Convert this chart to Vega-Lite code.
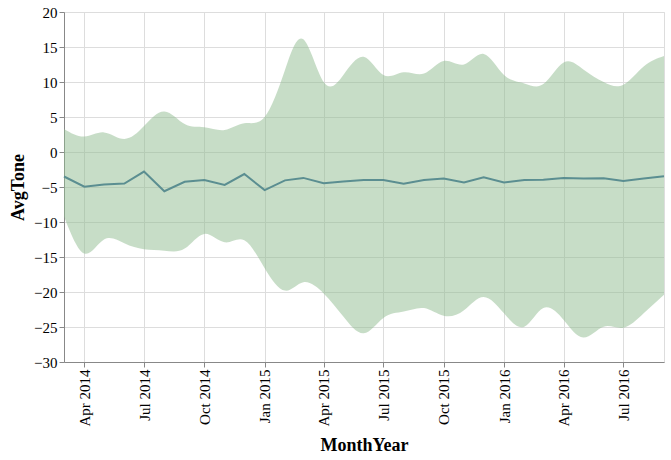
{
  "$schema": "https://vega.github.io/schema/vega-lite/v6.json",
  "width": 600,
  "height": 350,
  "autosize": {"type": "none"},
  "padding": {"left": 64, "top": 12, "right": 7, "bottom": 98},
  "config": {
    "font": "Liberation Serif",
    "style": {
      "guide-label": {"font": "Liberation Serif", "fontSize": 15, "fill": "#000"},
      "guide-title": {"font": "Liberation Serif", "fontSize": 18, "fontWeight": "bold", "fill": "#000"}
    },
    "axis": {
      "labelFont": "Liberation Serif",
      "titleFont": "Liberation Serif",
      "labelFontSize": 15,
      "titleFontSize": 18,
      "titleFontWeight": "bold",
      "labelColor": "#000",
      "titleColor": "#000"
    }
  },
  "data": {
    "values": [
      {"MonthYear": "2014-03-01T00:00:00", "AvgTone": -3.5, "Lo": -9.2, "Hi": 3.3},
      {"MonthYear": "2014-04-01T00:00:00", "AvgTone": -4.95, "Lo": -14.5, "Hi": 2.2},
      {"MonthYear": "2014-05-01T00:00:00", "AvgTone": -4.65, "Lo": -12.5, "Hi": 2.8},
      {"MonthYear": "2014-06-01T00:00:00", "AvgTone": -4.5, "Lo": -13.05, "Hi": 1.86},
      {"MonthYear": "2014-07-01T00:00:00", "AvgTone": -2.8, "Lo": -13.9, "Hi": 3.7},
      {"MonthYear": "2014-08-01T00:00:00", "AvgTone": -5.6, "Lo": -14.1, "Hi": 5.8},
      {"MonthYear": "2014-09-01T00:00:00", "AvgTone": -4.25, "Lo": -13.8, "Hi": 4.0},
      {"MonthYear": "2014-10-01T00:00:00", "AvgTone": -4.0, "Lo": -11.7, "Hi": 3.55},
      {"MonthYear": "2014-11-01T00:00:00", "AvgTone": -4.7, "Lo": -12.9, "Hi": 3.15},
      {"MonthYear": "2014-12-01T00:00:00", "AvgTone": -3.15, "Lo": -12.6, "Hi": 4.1},
      {"MonthYear": "2015-01-01T00:00:00", "AvgTone": -5.45, "Lo": -16.6, "Hi": 5.0},
      {"MonthYear": "2015-02-01T00:00:00", "AvgTone": -4.05, "Lo": -19.8, "Hi": 11.7},
      {"MonthYear": "2015-03-01T00:00:00", "AvgTone": -3.7, "Lo": -18.6, "Hi": 16.1},
      {"MonthYear": "2015-04-01T00:00:00", "AvgTone": -4.45, "Lo": -20.2, "Hi": 10.0},
      {"MonthYear": "2015-05-01T00:00:00", "AvgTone": -4.2, "Lo": -23.5, "Hi": 11.0},
      {"MonthYear": "2015-06-01T00:00:00", "AvgTone": -4.0, "Lo": -25.9, "Hi": 13.6},
      {"MonthYear": "2015-07-01T00:00:00", "AvgTone": -4.0, "Lo": -23.7, "Hi": 11.0},
      {"MonthYear": "2015-08-01T00:00:00", "AvgTone": -4.55, "Lo": -22.8, "Hi": 11.4},
      {"MonthYear": "2015-09-01T00:00:00", "AvgTone": -4.0, "Lo": -22.3, "Hi": 11.2},
      {"MonthYear": "2015-10-01T00:00:00", "AvgTone": -3.8, "Lo": -23.4, "Hi": 13.0},
      {"MonthYear": "2015-11-01T00:00:00", "AvgTone": -4.35, "Lo": -22.6, "Hi": 12.5},
      {"MonthYear": "2015-12-01T00:00:00", "AvgTone": -3.6, "Lo": -20.7, "Hi": 14.0},
      {"MonthYear": "2016-01-01T00:00:00", "AvgTone": -4.35, "Lo": -23.05, "Hi": 11.0},
      {"MonthYear": "2016-02-01T00:00:00", "AvgTone": -4.0, "Lo": -24.95, "Hi": 9.8},
      {"MonthYear": "2016-03-01T00:00:00", "AvgTone": -3.95, "Lo": -22.3, "Hi": 9.7},
      {"MonthYear": "2016-04-01T00:00:00", "AvgTone": -3.7, "Lo": -24.0, "Hi": 12.8},
      {"MonthYear": "2016-05-01T00:00:00", "AvgTone": -3.8, "Lo": -26.5, "Hi": 11.8},
      {"MonthYear": "2016-06-01T00:00:00", "AvgTone": -3.75, "Lo": -24.95, "Hi": 10.0},
      {"MonthYear": "2016-07-01T00:00:00", "AvgTone": -4.15, "Lo": -25.1, "Hi": 9.6},
      {"MonthYear": "2016-08-01T00:00:00", "AvgTone": -3.8, "Lo": -23.05, "Hi": 12.2},
      {"MonthYear": "2016-09-01T00:00:00", "AvgTone": -3.45, "Lo": -20.4, "Hi": 13.7}
    ]
  },
  "encoding": {
    "x": {
      "field": "MonthYear",
      "type": "temporal",
      "title": "MonthYear",
      "axis": {
        "format": "%b %Y",
        "labelAngle": 270,
        "labelFont": "Liberation Serif",
        "titlePadding": 10,
        "tickCount": {"interval": "month", "step": 3}
      }
    }
  },
  "layer": [
    {
      "mark": {"type": "area", "interpolate": "natural", "color": "#8fbc8f", "opacity": 0.5},
      "encoding": {
        "y": {
          "field": "Lo",
          "type": "quantitative",
          "title": "AvgTone",
          "scale": {"domain": [-30, 20]},
          "axis": {"titlePadding": 6, "labelFont": "Liberation Serif"}
        },
        "y2": {"field": "Hi"}
      }
    },
    {
      "mark": {"type": "line", "color": "#5b8e91", "strokeWidth": 2},
      "encoding": {
        "y": {"field": "AvgTone", "type": "quantitative"}
      }
    }
  ]
}
